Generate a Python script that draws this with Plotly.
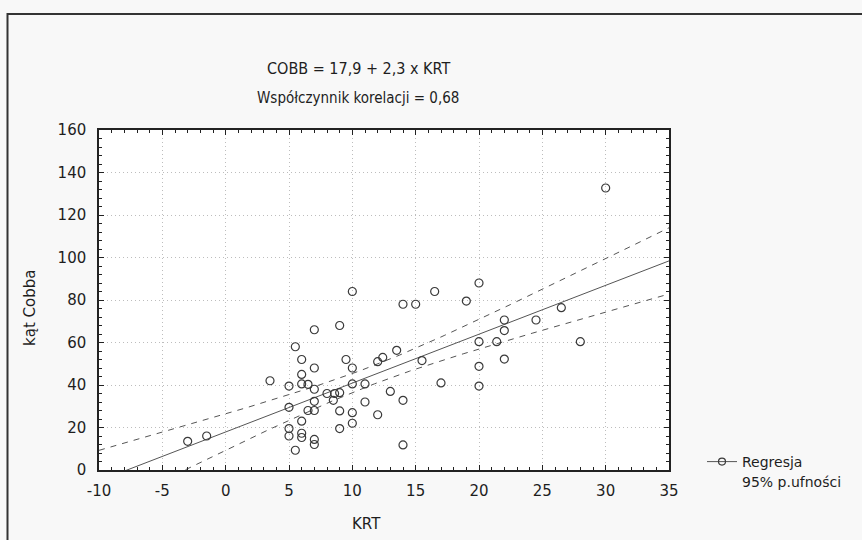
import numpy as np
import plotly.graph_objects as go

# ---- data ----
krt = [10.0, 7.0, 9.0, 5.5, 6.0, 9.5, 7.0, 10.0, 12.0, 12.4,
       6.0, 3.5, 5.0, 6.0, 6.5, 7.0, 10.0, 11.0, 8.0, 8.6,
       9.0, 8.5, 13.0, 7.0, 11.0, 5.0, 6.5, 7.0, 9.0, 10.0,
       12.0, 6.0, 9.0, 10.0, 5.0, 5.0, 6.0, 6.0, 7.0, 7.0,
       5.5, -3.0, -1.5, 30.0, 20.0, 16.5, 14.0, 15.0, 19.0, 26.5,
       22.0, 24.5, 22.0, 20.0, 21.4, 28.0, 13.5, 15.5, 22.0, 20.0,
       17.0, 20.0, 14.0, 14.0]
cobb = [84.0, 66.0, 68.0, 58.0, 52.0, 52.0, 48.0, 48.0, 51.0, 53.0,
        45.0, 42.0, 39.5, 40.5, 40.3, 38.0, 40.5, 40.5, 36.0, 36.0,
        36.4, 32.8, 37.0, 32.3, 32.0, 29.5, 28.0, 28.0, 27.8, 27.0,
        26.0, 23.0, 19.5, 22.0, 19.5, 16.0, 17.3, 15.3, 14.4, 12.0,
        9.3, 13.5, 16.0, 132.7, 88.0, 84.0, 78.0, 78.0, 79.5, 76.4,
        70.6, 70.6, 65.6, 60.4, 60.4, 60.4, 56.3, 51.5, 52.2, 48.8,
        41.0, 39.5, 32.8, 11.8]
intercept = 17.9
slope = 2.3
x_ticks = [-10, -5, 0, 5, 10, 15, 20, 25, 30, 35]
y_ticks = [0, 20, 40, 60, 80, 100, 120, 140, 160]
title_line1 = "COBB = 17,9 + 2,3 x KRT"
title_line2 = "Współczynnik korelacji = 0,68"
legend_line1 = "Regresja"
legend_line2 = "95% p.ufności"

# ---- regression line and 95% confidence band ----
x = np.array(krt)
y = np.array(cobb)
n = len(x)
pred = intercept + slope * x
s = np.sqrt(np.sum((y - pred) ** 2) / (n - 2))
xbar = x.mean()
sxx = np.sum((x - xbar) ** 2)
xs = np.linspace(-10, 35, 181)
fit = intercept + slope * xs
half = 2.0 * s * np.sqrt(1.0 / n + (xs - xbar) ** 2 / sxx)

FONT = "DejaVu Sans"
FONT_C = "DejaVu Sans Condensed"
DARK = "#3a3a3a"
TXT = "#1e1e1e"

fig = go.Figure()
fig.add_trace(go.Scatter(x=xs, y=fit + half, mode="lines",
                         line=dict(color="#555555", width=1, dash="6px,6px"),
                         showlegend=False, hoverinfo="skip"))
fig.add_trace(go.Scatter(x=xs, y=fit - half, mode="lines",
                         line=dict(color="#555555", width=1, dash="6px,6px"),
                         showlegend=False, hoverinfo="skip"))
fig.add_trace(go.Scatter(x=xs, y=fit, mode="lines",
                         line=dict(color="#555555", width=1),
                         showlegend=False, hoverinfo="skip"))
fig.add_trace(go.Scatter(x=krt, y=cobb, mode="markers",
                         marker=dict(symbol="circle-open", size=8,
                                     color=DARK, line=dict(width=1.2, color=DARK)),
                         showlegend=False))
# legend entry
fig.add_trace(go.Scatter(x=[None], y=[None], mode="lines+markers", name=legend_line1,
                         marker=dict(symbol="circle-open", size=7, color=DARK,
                                     line=dict(width=1.2, color=DARK)),
                         line=dict(color="#555555", width=1)))

axis_common = dict(
    showgrid=True, gridcolor="#bdbdbd", griddash="1px,3px", gridwidth=1,
    zeroline=False, showline=True, linecolor="#222222", linewidth=1.5,
    mirror="allticks", ticks="inside", ticklen=5, tickcolor="#222222",
    tickfont=dict(family=FONT, size=15, color=TXT),
)
fig.update_xaxes(range=[-10, 35], tickmode="array", tickvals=x_ticks,
                 ticktext=[str(v) for v in x_ticks], ticklabelstandoff=6,
                 minor=dict(ticks="inside", dtick=1, tick0=-10, ticklen=3,
                            tickcolor="#222222", showgrid=False),
                 **axis_common)
fig.update_yaxes(range=[0, 160], tickmode="array", tickvals=y_ticks,
                 ticktext=[str(v) for v in y_ticks], ticklabelstandoff=8,
                 minor=dict(ticks="inside", dtick=4, tick0=0, ticklen=3,
                            tickcolor="#222222", showgrid=False),
                 **axis_common)

W, H = 862, 540
ML, MR, MT, MB = 99, 193, 130, 70
pw, ph = W - ML - MR, H - MT - MB

def px(xp):
    return (xp - ML) / pw

def py(yp):
    return (H - MB - yp) / ph

fig.update_layout(
    width=W, height=H,
    margin=dict(l=ML, r=MR, t=MT, b=MB, autoexpand=False),
    paper_bgcolor="#f8f8f8", plot_bgcolor="#ffffff",
    font=dict(family=FONT, size=15, color=TXT),
    showlegend=True,
    legend=dict(x=px(702), y=py(446), xanchor="left", yanchor="top",
                bgcolor="rgba(0,0,0,0)", font=dict(family=FONT, size=14, color=TXT),
                tracegroupgap=0, itemwidth=30),
    shapes=[dict(type="rect", xref="paper", yref="paper",
                 x0=px(7.5), x1=px(900), y0=py(600), y1=py(14),
                 line=dict(color="#333333", width=2), layer="below")],
    annotations=[
        dict(text=title_line1, xref="paper", yref="paper", x=px(358), y=py(68),
             xanchor="center", yanchor="middle", showarrow=False,
             font=dict(family=FONT_C, size=16, color=TXT)),
        dict(text=title_line2, xref="paper", yref="paper", x=px(358), y=py(98),
             xanchor="center", yanchor="middle", showarrow=False,
             font=dict(family=FONT_C, size=15, color=TXT)),
        dict(text="KRT", xref="paper", yref="paper", x=px(366), y=py(524),
             xanchor="center", yanchor="middle", showarrow=False,
             font=dict(family=FONT, size=15, color=TXT)),
        dict(text="kąt Cobba", xref="paper", yref="paper", x=px(30), y=py(308),
             xanchor="center", yanchor="middle", showarrow=False, textangle=-90,
             font=dict(family=FONT, size=15, color=TXT)),
        dict(text=legend_line2, xref="paper", yref="paper", x=px(740), y=py(482),
             xanchor="left", yanchor="middle", showarrow=False,
             font=dict(family=FONT, size=14, color=TXT)),
    ],
)

fig.write_html("out.html", config={"displayModeBar": False},
               post_script="document.body.style.margin='0px';document.body.style.overflow='hidden';")
